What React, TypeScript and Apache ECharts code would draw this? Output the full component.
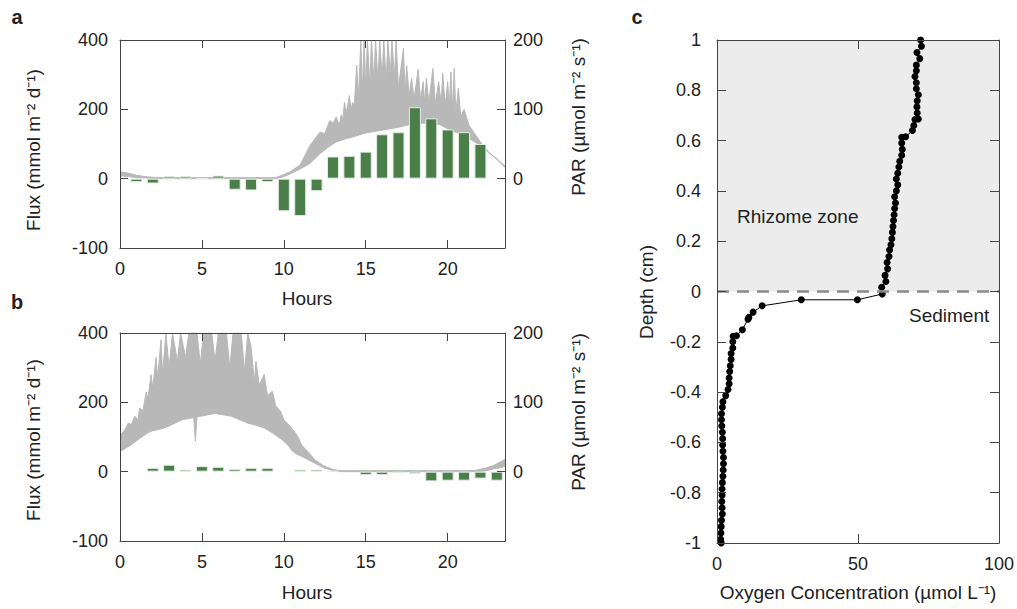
import React, { useEffect, useRef } from "react";
import * as echarts from "echarts";

// ---------- Data ----------
const hourTicks = [0, 5, 10, 15, 20];
// Left flux axis: tick positions (axis units) and their printed labels
const fluxAxisTicks = [-100, 0, 100, 200];
const fluxTickLabels = [-100, 0, 200, 400];
const parTickLabels = [0, 100, 200];

// Panel a – hourly flux (mmol m-2 d-1)
const fluxHoursA = [1, 2, 3, 4, 5, 6, 7, 8, 9, 10, 11, 12, 13, 14, 15, 16, 17, 18, 19, 20, 21, 22];
const fluxA = [-5, -7, 7, 7, 1, 9, -16, -17, -5, -47, -54, -18, 64, 66, 78, 128, 134, 206, 174, 142, 134, 100];

// Panel b – hourly flux
const fluxHoursB = [2, 3, 4, 5, 6, 7, 8, 9, 11, 12, 13, 15, 16, 17, 18, 19, 20, 21, 22, 23];
const fluxB = [11, 20, 6, 16, 14, 8, 11, 11, 6, 6, 2, -5, -5, -2, -3, -14, -13, -13, -10, -13];

// Panel a – PAR trace (µmol m-2 s-1): lower and upper envelope
const parLowHoursA = [0, 0.5, 1, 1.5, 2, 3, 9.5, 10, 10.4, 11, 11.6, 12.2, 12.8, 13.2, 13.7, 14.2, 14.6, 15, 15.5, 16, 16.5, 17, 17.5, 18, 18.5, 19, 19.5, 20, 20.4, 20.8, 21.3, 22, 22.5, 23, 23.5];
const parLowA = [4, 3, 1.5, 1, 0.5, 0, 0, 3, 7, 14, 22, 36, 47, 53, 57, 60, 63, 66, 68, 70, 72, 74, 77, 79, 80, 80, 78, 72, 68, 64, 58, 48, 38, 28, 16];
const parHighHoursA = [0, 0.5, 1, 1.5, 2, 3, 9.5, 10, 10.4, 11, 11.6, 12.2, 12.5, 12.8, 13.0, 13.2, 13.3, 13.4, 13.5, 13.6, 13.7, 13.8, 13.9, 14.0, 14.1, 14.2, 14.3, 14.45, 14.55, 14.6, 14.7, 14.8, 14.9, 15.0, 15.1, 15.25, 15.35, 15.5, 15.6, 15.75, 15.85, 16.0, 16.1, 16.25, 16.35, 16.5, 16.6, 16.75, 16.85, 17.0, 17.15, 17.3, 17.4, 17.5, 17.65, 17.8, 17.95, 18.2, 18.35, 18.5, 18.6, 18.7, 18.85, 19.1, 19.25, 19.45, 19.6, 19.7, 19.85, 20.0, 20.1, 20.2, 20.3, 20.4, 20.5, 20.65, 20.8, 21.0, 21.3, 21.5, 22.0, 22.5, 23.0, 23.5];
const parHighA = [10, 8, 5, 3, 2, 1.5, 1.5, 6, 10, 20, 48, 67, 65, 84, 80, 89, 82, 78, 92, 85, 110, 95, 105, 120, 100, 110, 105, 164, 118, 140, 200, 125, 200, 130, 200, 135, 200, 140, 200, 140, 200, 145, 200, 140, 200, 150, 200, 145, 200, 130, 160, 188, 125, 163, 120, 145, 115, 158, 112, 140, 110, 145, 110, 159, 108, 140, 108, 152, 105, 140, 104, 154, 100, 159, 95, 130, 90, 100, 77, 70, 53, 38, 29, 18];

// Panel b – PAR trace: lower and upper envelope
const parLowHoursB = [0, 0.7, 1.2, 1.7, 2, 2.4, 2.7, 3, 3.8, 4.5, 4.6, 4.7, 5.8, 6.8, 7.8, 8.3, 8.8, 9.3, 9.9, 10.3, 10.5, 10.8, 11.1, 11.5, 11.9, 12.4, 12.5, 13, 13.5, 21.7, 22.3, 22.8, 23.3, 23.5];
const parLowB = [29, 39, 48, 56, 59, 61, 63, 66, 75, 78, 44, 79, 84, 80, 70, 67, 63, 56, 46, 37, 30, 25, 22, 17, 12, 6, 5, 1.5, 0, 0, 1, 4, 6, 8];
const parHighHoursB = [0, 0.3, 0.5, 0.7, 0.9, 1.1, 1.2, 1.4, 1.6, 1.7, 1.9, 2.0, 2.2, 2.3, 2.5, 2.6, 2.8, 3.0, 3.2, 3.5, 3.7, 4.0, 4.2, 4.7, 4.9, 5.1, 5.6, 5.8, 6.0, 6.5, 6.7, 6.9, 7.4, 7.6, 7.8, 8.0, 8.2, 8.3, 8.5, 8.8, 9.0, 9.3, 9.5, 9.8, 10.0, 10.3, 10.5, 10.8, 11.1, 11.5, 11.9, 12.4, 12.5, 13, 13.5, 21, 21.7, 22.3, 22.8, 23.3, 23.5];
const parHighB = [53, 60, 70, 68, 80, 75, 92, 88, 115, 105, 140, 120, 165, 135, 190, 140, 200, 150, 200, 160, 200, 165, 200, 200, 155, 200, 200, 160, 200, 200, 150, 200, 200, 145, 200, 180, 130, 159, 125, 140, 110, 116, 95, 87, 75, 68, 62, 53, 38, 28, 17, 9, 8, 3, 1.5, 1.5, 2, 5, 9, 15, 18];

// Panel c – oxygen profile
const depth = [1.0, 0.975, 0.95, 0.926, 0.9, 0.878, 0.855, 0.83, 0.806, 0.782, 0.758, 0.734, 0.71, 0.686, 0.684, 0.66, 0.64, 0.615, 0.613, 0.59, 0.565, 0.542, 0.518, 0.495, 0.47, 0.447, 0.424, 0.4, 0.377, 0.352, 0.33, 0.305, 0.282, 0.258, 0.235, 0.21, 0.186, 0.165, 0.139, 0.115, 0.09, 0.064, 0.04, 0.017, -0.01, -0.033, -0.033, -0.057, -0.082, -0.103, -0.11, -0.152, -0.176, -0.178, -0.2, -0.225, -0.247, -0.27, -0.295, -0.318, -0.344, -0.367, -0.39, -0.414, -0.438, -0.46, -0.486, -0.51, -0.535, -0.56, -0.585, -0.61, -0.635, -0.66, -0.685, -0.71, -0.735, -0.76, -0.785, -0.81, -0.835, -0.86, -0.885, -0.91, -0.935, -0.96, -0.985, -1.0];
const oxygen = [72.2, 72.5, 70.9, 71.9, 70.7, 70.7, 70.2, 70.7, 70.7, 71.4, 71.0, 70.9, 71.0, 71.4, 70.2, 69.8, 69.3, 66.9, 65.5, 65.5, 65.7, 65.5, 64.8, 64.5, 64.1, 63.6, 64.1, 63.6, 63.0, 63.3, 63.0, 62.8, 62.6, 62.4, 62.2, 62.0, 61.7, 61.2, 61.0, 60.3, 60.5, 59.6, 59.9, 58.4, 58.6, 49.8, 29.9, 16.0, 12.8, 11.3, 11.0, 9.0, 6.9, 5.7, 5.6, 5.6, 5.0, 5.0, 4.7, 4.5, 4.3, 4.3, 3.9, 3.1, 2.1, 1.9, 1.6, 1.6, 1.7, 1.9, 2.0, 2.0, 2.1, 2.3, 2.3, 2.2, 2.1, 1.9, 1.8, 1.8, 1.7, 1.8, 1.9, 1.6, 1.5, 1.4, 1.3, 1.5];
const oxygenTicks = [0, 50, 100];

// ---------- Helpers ----------
const FONT = "'Liberation Sans', Arial, Helvetica, sans-serif";
const TEXT = "#222";
const AXIS = "#444";
const GREEN = "#4a7f4a";
const GRAY = "#b8b8b8";

// map a printed flux value onto the linear axis (piecewise between labelled ticks)
function fluxToAxis(v: number): number {
  for (let i = 0; i < fluxTickLabels.length - 1; i++) {
    const a = fluxTickLabels[i], b = fluxTickLabels[i + 1];
    if (v >= a && v <= b) {
      const t = (v - a) / (b - a);
      return fluxAxisTicks[i] + t * (fluxAxisTicks[i + 1] - fluxAxisTicks[i]);
    }
  }
  return v;
}

const labelStyle = { fontSize: 18, color: TEXT, fontFamily: FONT };

function xAxes(gridIndex: number, min: number, max: number, interval: number, ticks: number[], tickLen: number) {
  const base = {
    type: "value" as const,
    gridIndex,
    min,
    max,
    interval,
    z: 5,
    splitLine: { show: false },
    axisLine: { show: true, onZero: false, lineStyle: { color: AXIS, width: 1 } },
    axisTick: { show: true, inside: true, length: tickLen, lineStyle: { color: AXIS, width: 1 } },
  };
  return [
    {
      ...base,
      position: "bottom",
      axisLabel: {
        ...labelStyle,
        margin: 12,
        showMaxLabel: false,
        formatter: (v: number) => (ticks.includes(v) ? String(v) : ""),
      },
    },
    { ...base, position: "top", axisLabel: { show: false } },
  ];
}

function yAxesFlux(gridIndex: number) {
  const base = {
    type: "value" as const,
    gridIndex,
    min: -100,
    max: 200,
    interval: 100,
    z: 5,
    splitLine: { show: false },
    axisLine: { show: true, onZero: false, lineStyle: { color: AXIS, width: 1 } },
    axisTick: { show: true, inside: true, length: 8, lineStyle: { color: AXIS, width: 1 } },
  };
  return [
    {
      ...base,
      position: "left",
      axisLabel: {
        ...labelStyle,
        margin: 12,
        formatter: (v: number) => {
          const i = fluxAxisTicks.indexOf(v);
          return i >= 0 ? String(fluxTickLabels[i]) : "";
        },
      },
    },
    {
      ...base,
      position: "right",
      axisLabel: {
        ...labelStyle,
        margin: 8,
        formatter: (v: number) => (parTickLabels.includes(v) ? String(v) : ""),
      },
    },
  ];
}

// PAR band: gray area under the upper envelope, white area under the lower envelope
function parSeries(xi: number, yi: number, lowH: number[], low: number[], highH: number[], high: number[]) {
  return [
    {
      type: "line",
      xAxisIndex: xi,
      yAxisIndex: yi,
      symbol: "none",
      silent: true,
      z: 1,
      lineStyle: { color: GRAY, width: 1 },
      areaStyle: { color: GRAY, opacity: 1, origin: "start" },
      data: highH.map((h, i) => [h, high[i]]),
    },
    {
      type: "line",
      xAxisIndex: xi,
      yAxisIndex: yi,
      symbol: "none",
      silent: true,
      z: 1.5,
      lineStyle: { color: GRAY, width: 1 },
      areaStyle: { color: "#ffffff", opacity: 1, origin: "start" },
      data: lowH.map((h, i) => [h, low[i]]),
    },
  ];
}

function barSeries(xi: number, yi: number, hours: number[], vals: number[]) {
  return {
    type: "bar",
    xAxisIndex: xi,
    yAxisIndex: yi,
    barWidth: 12,
    z: 3,
    silent: true,
    itemStyle: { color: GREEN, borderColor: "#e4eee4", borderWidth: 1 },
    data: hours.map((h, i) => [h, fluxToAxis(vals[i])]),
  };
}

function txt(x: number, y: number, text: string, opts: any = {}) {
  return {
    type: "text",
    x,
    y,
    z: 100,
    rotation: opts.rotation || 0,
    silent: true,
    style: {
      text,
      fill: TEXT,
      fontSize: opts.fontSize || 19,
      fontWeight: opts.fontWeight || "normal",
      fontFamily: FONT,
      textAlign: opts.align || "center",
      align: opts.align || "center",
      textVerticalAlign: "middle",
      verticalAlign: "middle",
    },
  };
}

export default function App() {
  const ref = useRef<HTMLDivElement>(null);

  useEffect(() => {
    if (!ref.current) return;
    const chart = echarts.init(ref.current, undefined, { renderer: "svg" });

    const grids = [
      { left: 120, right: 512, top: 40, bottom: 361 },
      { left: 120, right: 512, top: 333, bottom: 68 },
      { left: 717, right: 18, top: 40, bottom: 66 },
    ];

    const cBase = {
      type: "value" as const,
      gridIndex: 2,
      z: 5,
      splitLine: { show: false },
      axisLine: { show: true, onZero: false, lineStyle: { color: AXIS, width: 1 } },
      axisTick: { show: true, inside: true, length: 9, lineStyle: { color: AXIS, width: 1 } },
    };

    const option: any = {
      animation: false,
      backgroundColor: "#fff",
      grid: grids.map((g) => ({ ...g, containLabel: false })),
      xAxis: [
        ...xAxes(0, 0, 23.5, 5, hourTicks, 8),
        ...xAxes(1, 0, 23.5, 5, hourTicks, 8),
        {
          ...cBase,
          min: 0,
          max: 100,
          interval: 50,
          position: "bottom",
          axisLabel: { ...labelStyle, margin: 12, formatter: (v: number) => (oxygenTicks.includes(v) ? String(v) : "") },
        },
        { ...cBase, min: 0, max: 100, interval: 50, position: "top", axisLabel: { show: false } },
      ],
      yAxis: [
        ...yAxesFlux(0),
        ...yAxesFlux(1),
        {
          ...cBase,
          min: -1,
          max: 1,
          interval: 0.2,
          position: "left",
          axisLabel: { ...labelStyle, margin: 16 },
        },
        { ...cBase, min: -1, max: 1, interval: 0.2, position: "right", axisLabel: { show: false } },
      ],
      series: [
        ...parSeries(0, 1, parLowHoursA, parLowA, parHighHoursA, parHighA),
        barSeries(0, 0, fluxHoursA, fluxA),
        ...parSeries(2, 3, parLowHoursB, parLowB, parHighHoursB, parHighB),
        barSeries(2, 2, fluxHoursB, fluxB),
        {
          type: "line",
          xAxisIndex: 4,
          yAxisIndex: 4,
          symbol: "circle",
          symbolSize: 7,
          silent: true,
          z: 3,
          itemStyle: { color: "#000" },
          lineStyle: { color: "#000", width: 1 },
          data: oxygen.map((o, i) => [o, depth[i]]),
          markArea: {
            silent: true,
            itemStyle: { color: "#ececec" },
            data: [[{ yAxis: 0 }, { yAxis: 1 }]],
          },
          markLine: {
            silent: true,
            symbol: ["none", "none"],
            label: { show: false },
            lineStyle: { color: "#8a8a8a", width: 2.5, type: [12, 8] },
            data: [{ yAxis: 0 }],
          },
        },
      ],
      graphic: [
        txt(17, 17, "a", { fontWeight: "bold", fontSize: 20 }),
        txt(17, 302, "b", { fontWeight: "bold", fontSize: 20 }),
        txt(637, 17, "c", { fontWeight: "bold", fontSize: 20 }),
        txt(33, 150, "Flux (mmol m⁻² d⁻¹)", { rotation: Math.PI / 2 }),
        txt(33, 440, "Flux (mmol m⁻² d⁻¹)", { rotation: Math.PI / 2 }),
        txt(578, 117, "PAR (µmol m⁻² s⁻¹)", { rotation: Math.PI / 2 }),
        txt(578, 412, "PAR (µmol m⁻² s⁻¹)", { rotation: Math.PI / 2 }),
        txt(307, 298, "Hours"),
        txt(307, 592, "Hours"),
        txt(646, 292, "Depth (cm)", { rotation: Math.PI / 2 }),
        txt(858, 592, "Oxygen Concentration (µmol L⁻¹)"),
        txt(737, 216, "Rhizome zone", { align: "left" }),
        txt(909, 315, "Sediment", { align: "left" }),
      ],
    };

    chart.setOption(option);
    return () => chart.dispose();
  }, []);

  return <div ref={ref} style={{ position: "absolute", left: 0, top: 0, width: 1017, height: 609 }} />;
}
